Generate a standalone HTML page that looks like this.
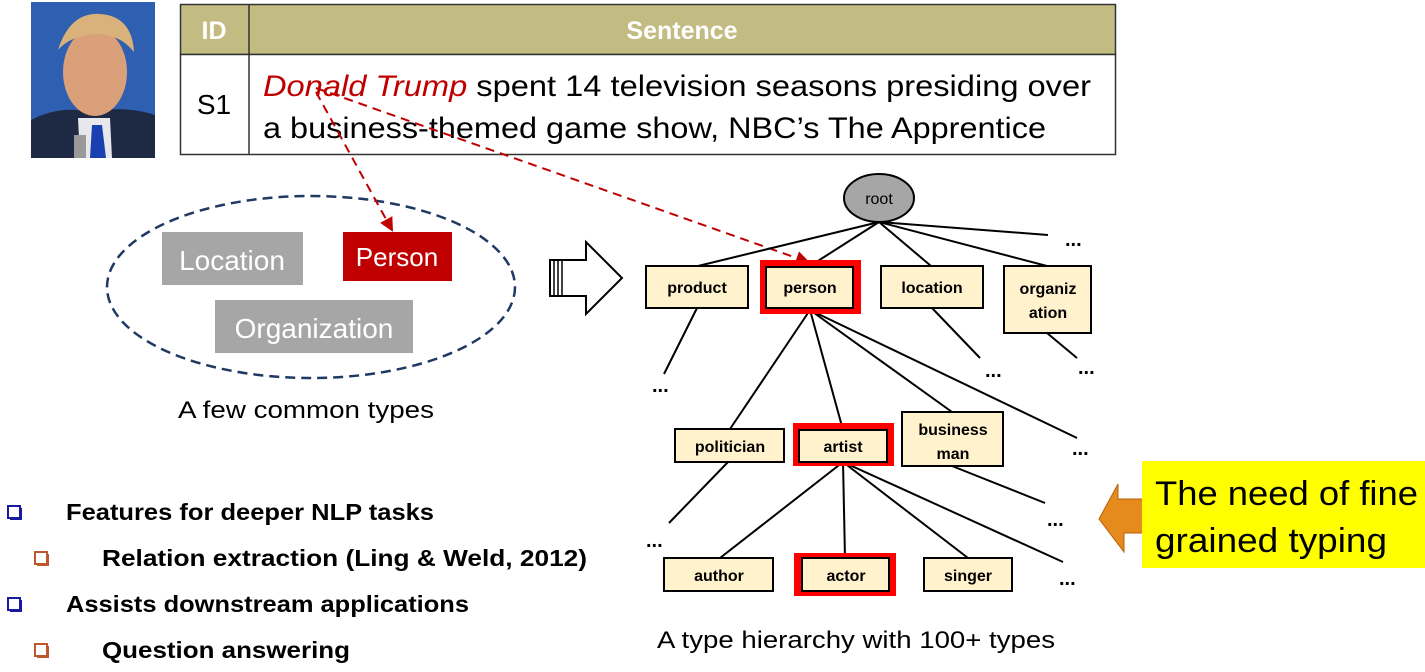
<!DOCTYPE html>
<html><head><meta charset="utf-8"><style>
html,body{margin:0;padding:0;background:#fff;}
svg{display:block;}
text{font-family:"Liberation Sans",sans-serif;}
</style></head><body>
<svg width="1425" height="672" viewBox="0 0 1425 672" xmlns="http://www.w3.org/2000/svg">
<defs>
<marker id="ar" markerWidth="14" markerHeight="14" refX="12" refY="7" orient="auto" markerUnits="userSpaceOnUse" viewBox="0 0 14 14"><path d="M0,0 L14,7 L0,14 z" fill="#c00000"/></marker>
</defs>
<!-- photo -->
<rect x="31" y="2" width="124" height="156" fill="#2f5fb0"/>
<path d="M31,120 Q60,105 90,112 Q125,105 155,115 L155,158 L31,158z" fill="#1e2a44"/>
<path d="M78,118 L110,118 L112,158 L80,158z" fill="#e8e8ec"/>
<path d="M92,125 L102,125 L106,158 L90,158z" fill="#1a3fb0"/>
<ellipse cx="95" cy="72" rx="32" ry="44" fill="#d9a07a"/>
<path d="M58,50 Q70,12 100,14 Q132,16 134,52 Q120,34 95,34 Q70,36 58,50z" fill="#d8b27a"/>
<rect x="74" y="135" width="12" height="23" fill="#999"/>
<!-- table -->
<rect x="180.5" y="4.5" width="935" height="50" fill="#c2bb82" stroke="#333" stroke-width="1.5"/>
<rect x="180.5" y="54.5" width="935" height="100" fill="#fff" stroke="#333" stroke-width="1.5"/>
<line x1="249" y1="4" x2="249" y2="154" stroke="#333" stroke-width="1.5"/>
<text x="214" y="39" font-size="25" font-weight="bold" fill="#fff" text-anchor="middle">ID</text>
<text x="682" y="39" font-size="25" font-weight="bold" fill="#fff" text-anchor="middle">Sentence</text>
<text x="214" y="114" font-size="28" fill="#000" text-anchor="middle">S1</text>
<text x="263" y="96" font-size="30" fill="#000" textLength="828" lengthAdjust="spacingAndGlyphs"><tspan fill="#c00000" font-style="italic">Donald Trump</tspan> spent 14 television seasons presiding over</text>
<text x="263" y="138" font-size="30" fill="#000" textLength="783" lengthAdjust="spacingAndGlyphs">a business-themed game show, NBC’s The Apprentice</text>
<!-- ellipse -->
<ellipse cx="311" cy="287" rx="204" ry="91" fill="none" stroke="#1f3864" stroke-width="2.5" stroke-dasharray="10,6"/>
<rect x="162" y="232" width="141" height="53" fill="#a6a6a6"/>
<text x="232" y="270" font-size="28" fill="#fff" text-anchor="middle">Location</text>
<rect x="343" y="232" width="109" height="49" fill="#c00000"/>
<text x="397" y="266" font-size="26" fill="#fff" text-anchor="middle">Person</text>
<rect x="215" y="300" width="198" height="53" fill="#a6a6a6"/>
<text x="314" y="338" font-size="28" fill="#fff" text-anchor="middle">Organization</text>
<text x="178" y="418" font-size="24" fill="#000" textLength="256" lengthAdjust="spacingAndGlyphs">A few common types</text>
<!-- red dashed arrows -->
<line x1="316" y1="92" x2="392" y2="230" stroke="#c00000" stroke-width="2" stroke-dasharray="9,6" marker-end="url(#ar)"/>
<line x1="316" y1="88" x2="808" y2="262" stroke="#c00000" stroke-width="2" stroke-dasharray="9,6" marker-end="url(#ar)"/>
<!-- big hollow arrow -->
<path d="M550,260 L586,260 L586,242 L622,278 L586,314 L586,296 L550,296z" fill="#fff" stroke="#000" stroke-width="2"/>
<line x1="554" y1="260" x2="554" y2="296" stroke="#000" stroke-width="1.5"/>
<line x1="558" y1="260" x2="558" y2="296" stroke="#000" stroke-width="1.5"/>
<line x1="562" y1="260" x2="562" y2="296" stroke="#000" stroke-width="1.5"/>
<!-- tree lines -->
<g stroke="#000" stroke-width="2" fill="none">
<line x1="879" y1="222" x2="698" y2="266"/>
<line x1="879" y1="222" x2="810" y2="266"/>
<line x1="879" y1="222" x2="931" y2="266"/>
<line x1="879" y1="222" x2="1047" y2="266"/>
<line x1="879" y1="222" x2="1048" y2="235"/>
<line x1="697" y1="308" x2="664" y2="374"/>
<line x1="932" y1="308" x2="980" y2="358"/>
<line x1="1047" y1="333" x2="1077" y2="358"/>
<line x1="810" y1="310" x2="730" y2="429"/>
<line x1="810" y1="310" x2="843" y2="430"/>
<line x1="810" y1="310" x2="952" y2="412"/>
<line x1="810" y1="310" x2="1077" y2="438"/>
<line x1="728" y1="462" x2="669" y2="523"/>
<line x1="952" y1="466" x2="1045" y2="503"/>
<line x1="843" y1="462" x2="720" y2="558"/>
<line x1="843" y1="462" x2="845" y2="558"/>
<line x1="843" y1="462" x2="968" y2="558"/>
<line x1="843" y1="462" x2="1063" y2="562"/>
</g>
<ellipse cx="879" cy="198" rx="35" ry="24" fill="#a6a6a6" stroke="#000" stroke-width="2"/>
<text x="879" y="204" font-size="16" fill="#000" text-anchor="middle">root</text>
<!-- red highlight frames -->
<rect x="760" y="260" width="101" height="54" fill="#ff0000"/>
<rect x="793" y="423" width="101" height="43" fill="#ff0000"/>
<rect x="794" y="553" width="102" height="43" fill="#ff0000"/>
<g fill="#fff2cc" stroke="#000" stroke-width="2">
<rect x="646" y="266" width="102" height="42"/>
<rect x="766" y="267" width="87" height="41"/>
<rect x="881" y="266" width="102" height="42"/>
<rect x="1004" y="266" width="87" height="67"/>
<rect x="675" y="429" width="109" height="33"/>
<rect x="799" y="430" width="88" height="32"/>
<rect x="902" y="412" width="101" height="54"/>
<rect x="664" y="558" width="109" height="33"/>
<rect x="802" y="558" width="87" height="33"/>
<rect x="924" y="558" width="88" height="33"/>
</g>
<g font-size="16" font-weight="bold" fill="#000" text-anchor="middle">
<text x="697" y="293">product</text>
<text x="810" y="293">person</text>
<text x="932" y="293">location</text>
<text x="1048" y="294">organiz</text>
<text x="1048" y="318">ation</text>
<text x="730" y="452">politician</text>
<text x="843" y="452">artist</text>
<text x="953" y="435">business</text>
<text x="953" y="459">man</text>
<text x="719" y="581">author</text>
<text x="846" y="581">actor</text>
<text x="968" y="581">singer</text>
</g>
<g font-size="20" font-weight="bold" fill="#000">
<text x="1065" y="246">...</text>
<text x="652" y="392">...</text>
<text x="985" y="377">...</text>
<text x="1078" y="374">...</text>
<text x="1072" y="455">...</text>
<text x="646" y="547">...</text>
<text x="1047" y="526">...</text>
<text x="1059" y="585">...</text>
</g>
<text x="657" y="648" font-size="24" fill="#000" textLength="398" lengthAdjust="spacingAndGlyphs">A type hierarchy with 100+ types</text>
<!-- orange arrow & yellow box -->
<path d="M1099,519 L1118,484 L1118,499 L1143,499 L1143,533 L1124,533 L1124,552z" fill="#e58a1c" stroke="#b8600a" stroke-width="1"/>
<rect x="1142" y="461" width="283" height="107" fill="#ffff00"/>
<text x="1155" y="505" font-size="34" fill="#000" textLength="263" lengthAdjust="spacingAndGlyphs">The need of fine</text>
<text x="1155" y="552" font-size="34" fill="#000" textLength="232" lengthAdjust="spacingAndGlyphs">grained typing</text>
<!-- bullets -->
<g>
<rect x="10" y="508" width="12" height="12" fill="#1a1aa0"/>
<rect x="8" y="506" width="12" height="12" fill="#fff" stroke="#1a1aa0" stroke-width="2"/>
<rect x="37" y="554" width="12" height="12" fill="#c0562c"/>
<rect x="35" y="552" width="12" height="12" fill="#fff" stroke="#c0562c" stroke-width="2"/>
<rect x="10" y="600" width="12" height="12" fill="#1a1aa0"/>
<rect x="8" y="598" width="12" height="12" fill="#fff" stroke="#1a1aa0" stroke-width="2"/>
<rect x="37" y="646" width="12" height="12" fill="#c0562c"/>
<rect x="35" y="644" width="12" height="12" fill="#fff" stroke="#c0562c" stroke-width="2"/>
</g>
<g font-size="23" font-weight="bold" fill="#000">
<text x="66" y="520" textLength="368" lengthAdjust="spacingAndGlyphs">Features for deeper NLP tasks</text>
<text x="102" y="566" textLength="485" lengthAdjust="spacingAndGlyphs">Relation extraction (Ling &amp; Weld, 2012)</text>
<text x="66" y="612" textLength="403" lengthAdjust="spacingAndGlyphs">Assists downstream applications</text>
<text x="102" y="658" textLength="248" lengthAdjust="spacingAndGlyphs">Question answering</text>
</g>
</svg>
</body></html>
